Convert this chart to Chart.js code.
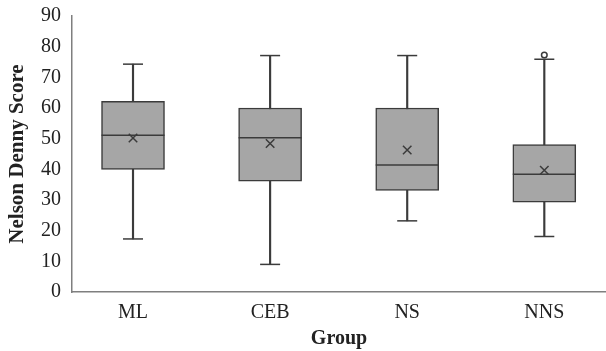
<!DOCTYPE html>
<html>
<head>
<meta charset="utf-8">
<script src="https://cdn.jsdelivr.net/npm/chart.js@4.4.1/dist/chart.umd.min.js"></script>
<style>
  html, body { margin: 0; padding: 0; background: #fff; }
  #wrap { width: 606px; height: 351px; }
</style>
</head>
<body>
<div id="wrap"><canvas id="boxChart"></canvas></div>
<script>
// Box plot values
const groups = ['ML', 'CEB', 'NS', 'NNS'];
const whiskerLow = [17.3, 9.0, 23.2, 18.1];
const quart1 = [40.0, 36.1, 33.1, 29.3];
const medians = [51.1, 50.3, 41.4, 38.4];
const quart3 = [62.2, 60.0, 60.0, 48.1];
const whiskerHigh = [74.3, 77.1, 77.1, 75.9];
const means = [50.2, 48.4, 46.3, 39.7];
const outliers = [{ group: 3, value: 77.3 }];
const yTicks = [0, 10, 20, 30, 40, 50, 60, 70, 80, 90];

const ink = '#3b3b3b';
const serif = "'Liberation Serif', 'DejaVu Serif', serif";

function pts(arr) {
    return arr.map((v, i) => ({ x: i, y: v }));
}

function markers(data, style, radius, extra) {
    return Object.assign({
        type: 'line',
        data: data,
        showLine: false,
        clip: false,
        pointStyle: style,
        pointRadius: radius,
        pointHoverRadius: radius,
        borderColor: ink,
        backgroundColor: ink,
        pointBorderWidth: 1.5,
        order: 0
    }, extra || {});
}

new Chart(document.getElementById('boxChart'), {
    type: 'bar',
    data: {
        datasets: [
            // whisker line (drawn behind the box)
            {
                data: groups.map((g, i) => ({ x: i, y: [whiskerLow[i], whiskerHigh[i]] })),
                backgroundColor: ink,
                borderWidth: 0,
                barThickness: 1.5,
                grouped: false,
                order: 3
            },
            // box from Q1 to Q3
            {
                data: groups.map((g, i) => ({ x: i, y: [quart1[i], quart3[i]] })),
                backgroundColor: '#a6a6a6',
                borderColor: ink,
                borderWidth: 1.5,
                borderSkipped: false,
                barThickness: 63,
                grouped: false,
                order: 2
            },
            markers(pts(medians), 'line', 31.5),
            markers(pts(whiskerHigh), 'line', 10),
            markers(pts(whiskerLow), 'line', 10),
            markers(pts(means), 'crossRot', 6),
            markers(outliers.map(o => ({ x: o.group, y: o.value })), 'circle', 2.8,
                { backgroundColor: '#ffffff' })
        ]
    },
    options: {
        responsive: true,
        maintainAspectRatio: false,
        animation: false,
        layout: { autoPadding: false, padding: { top: 16, right: 0, left: 0, bottom: 0 } },
        plugins: {
            legend: { display: false },
            tooltip: { enabled: false }
        },
        scales: {
            x: {
                type: 'linear',
                offset: false,
                min: -0.445,
                max: 3.45,
                grid: { display: false, drawTicks: false },
                border: { display: true, color: '#7f7f7f', width: 1.5 },
                afterBuildTicks: function(scale) {
                    scale.ticks = groups.map((g, i) => ({ value: i }));
                },
                afterFit: function(scale) {
                    scale.height = 59;
                    scale.paddingLeft = 0;
                    scale.paddingRight = 0;
                },
                ticks: {
                    padding: 9,
                    color: '#222',
                    maxRotation: 0,
                    font: { family: serif, size: 20 },
                    callback: function(value) { return groups[value]; }
                },
                title: {
                    display: true,
                    text: 'Group',
                    color: '#222',
                    padding: { top: 4, bottom: 0 },
                    font: { family: serif, size: 20, weight: 'bold' }
                }
            },
            y: {
                min: 0,
                max: 90,
                grid: { display: false, drawTicks: false },
                border: { display: true, color: '#7f7f7f', width: 1.5 },
                afterBuildTicks: function(scale) {
                    scale.ticks = yTicks.map(v => ({ value: v }));
                },
                afterFit: function(scale) {
                    scale.width = 72;
                    scale.paddingTop = 0;
                    scale.paddingBottom = 0;
                },
                ticks: {
                    padding: 11,
                    color: '#222',
                    font: { family: serif, size: 20 }
                },
                title: {
                    display: true,
                    text: 'Nelson Denny Score',
                    color: '#222',
                    padding: { top: 5, bottom: 0 },
                    font: { family: serif, size: 21, weight: 'bold' }
                }
            }
        }
    }
});
</script>
</body>
</html>
